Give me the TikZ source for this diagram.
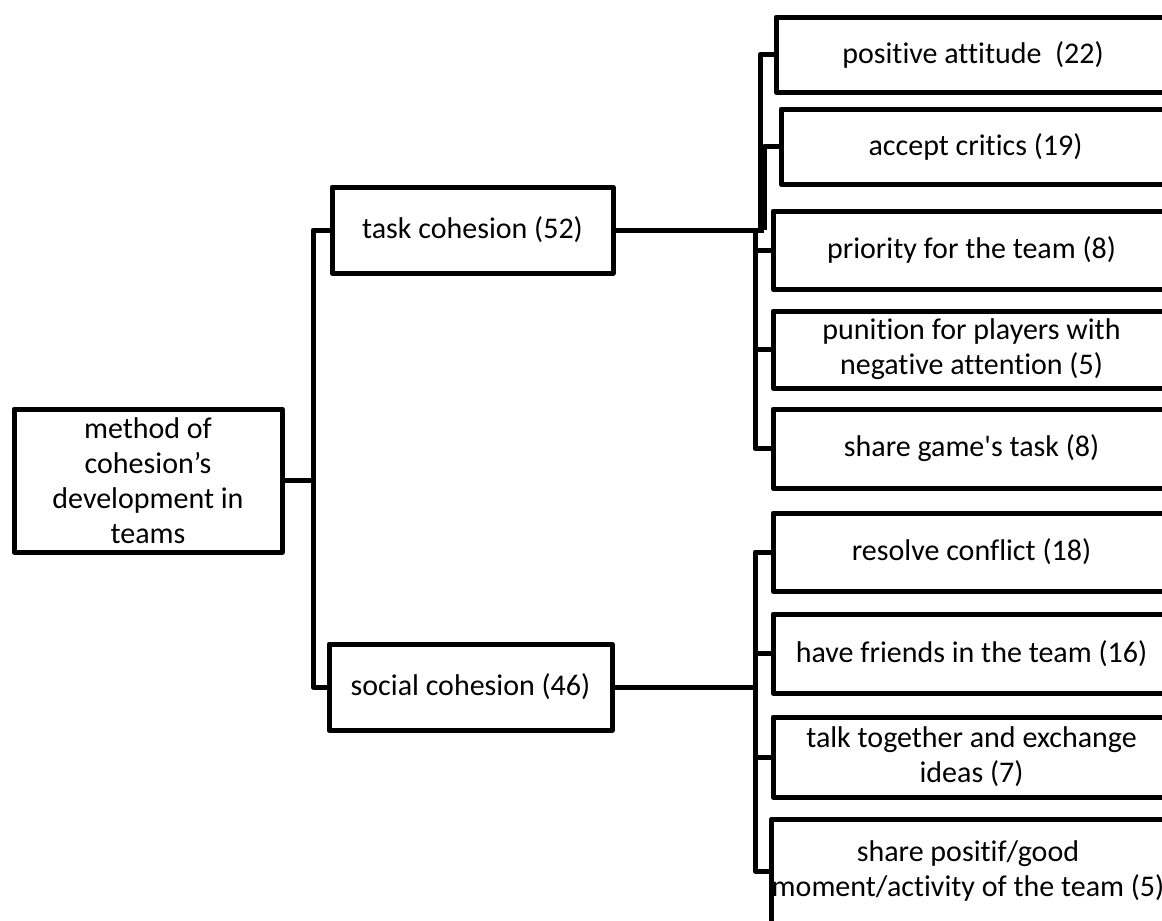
\documentclass[tikz,border=0pt]{standalone}
\usepackage{fontspec}
\setmainfont{Carlito}[Ligatures={TeX,NoCommon}]
\begin{document}
\begin{tikzpicture}[x=1pt,y=-1pt,
  line width=5pt, line join=round,
  box/.style={draw, rectangle, inner sep=0pt, align=center,
    font=\fontsize{30}{35}\selectfont},
  leaf/.style={box, minimum width=397pt}]
\useasboundingbox (0,0) rectangle (1162,921);
\clip (0,0) rectangle (1162,921);

% root and the two cohesion types
\node[box, minimum width=268pt, minimum height=143pt] (root) at (148,480.5)
  {method of\\cohesion’s\\development in\\teams};
\node[box, minimum width=281pt, minimum height=86pt] (task) at (472.5,230)
  {task cohesion (52)};
\node[box, minimum width=283pt, minimum height=86pt] (social) at (470.5,687)
  {social cohesion (46)};

% task cohesion items
\node[leaf, minimum width=394pt, minimum height=75pt] (t1) at (973,54.5)
  {positive attitude\ \ (22)};
\node[leaf, minimum width=389pt, minimum height=75pt] (t2) at (975.5,146.5)
  {accept critics (19)};
\node[leaf, minimum height=78pt] (t3) at (971.5,250)
  {priority for the team (8)};
\node[leaf, minimum height=77pt] (t4) at (971.5,349.5)
  {punition for players with\\negative attention (5)};
\node[leaf, minimum height=79pt] (t5) at (971.5,448.5)
  {share game\textquotesingle s task (8)};

% social cohesion items
\node[leaf, minimum height=78pt] (s1) at (971.5,552)
  {resolve conflict (18)};
\node[leaf, minimum height=79pt] (s2) at (971.5,653.5)
  {have friends in the team (16)};
\node[leaf, minimum height=80pt] (s3) at (971.5,757)
  {talk together and exchange\\ideas (7)};
\node[leaf, minimum width=390pt, minimum height=104pt] (s4) at (968,871)
  {share positif/good\\moment/activity of the team (5)};

% spine positions
\coordinate (sp)  at (313,0);
\coordinate (ua)  at (760,0);
\coordinate (ub)  at (764,0);
\coordinate (lb)  at (755,0);

% root to types
\draw (root.east) -- (root.east -| sp);
\draw (task.west) -- (task.west -| sp) -- (social.west -| sp) -- (social.west);

% task branch
\draw (task.east) -- (task.east -| ub);
\draw (t1.west) -- (t1.west -| ua) -- (task.east -| ua);
\draw (t2.west) -- (t2.west -| ub) -- (task.east -| ub);
\draw (task.east -| lb) -- (t5.west -| lb) -- (t5.west);
\draw (t3.west -| lb) -- (t3.west);
\draw (t4.west -| lb) -- (t4.west);

% social branch
\draw (social.east) -- (social.east -| lb);
\draw (s1.west) -- (s1.west -| lb) -- (s4.west -| lb) -- (s4.west);
\draw (s2.west -| lb) -- (s2.west);
\draw (s3.west -| lb) -- (s3.west);
\end{tikzpicture}
\end{document}
